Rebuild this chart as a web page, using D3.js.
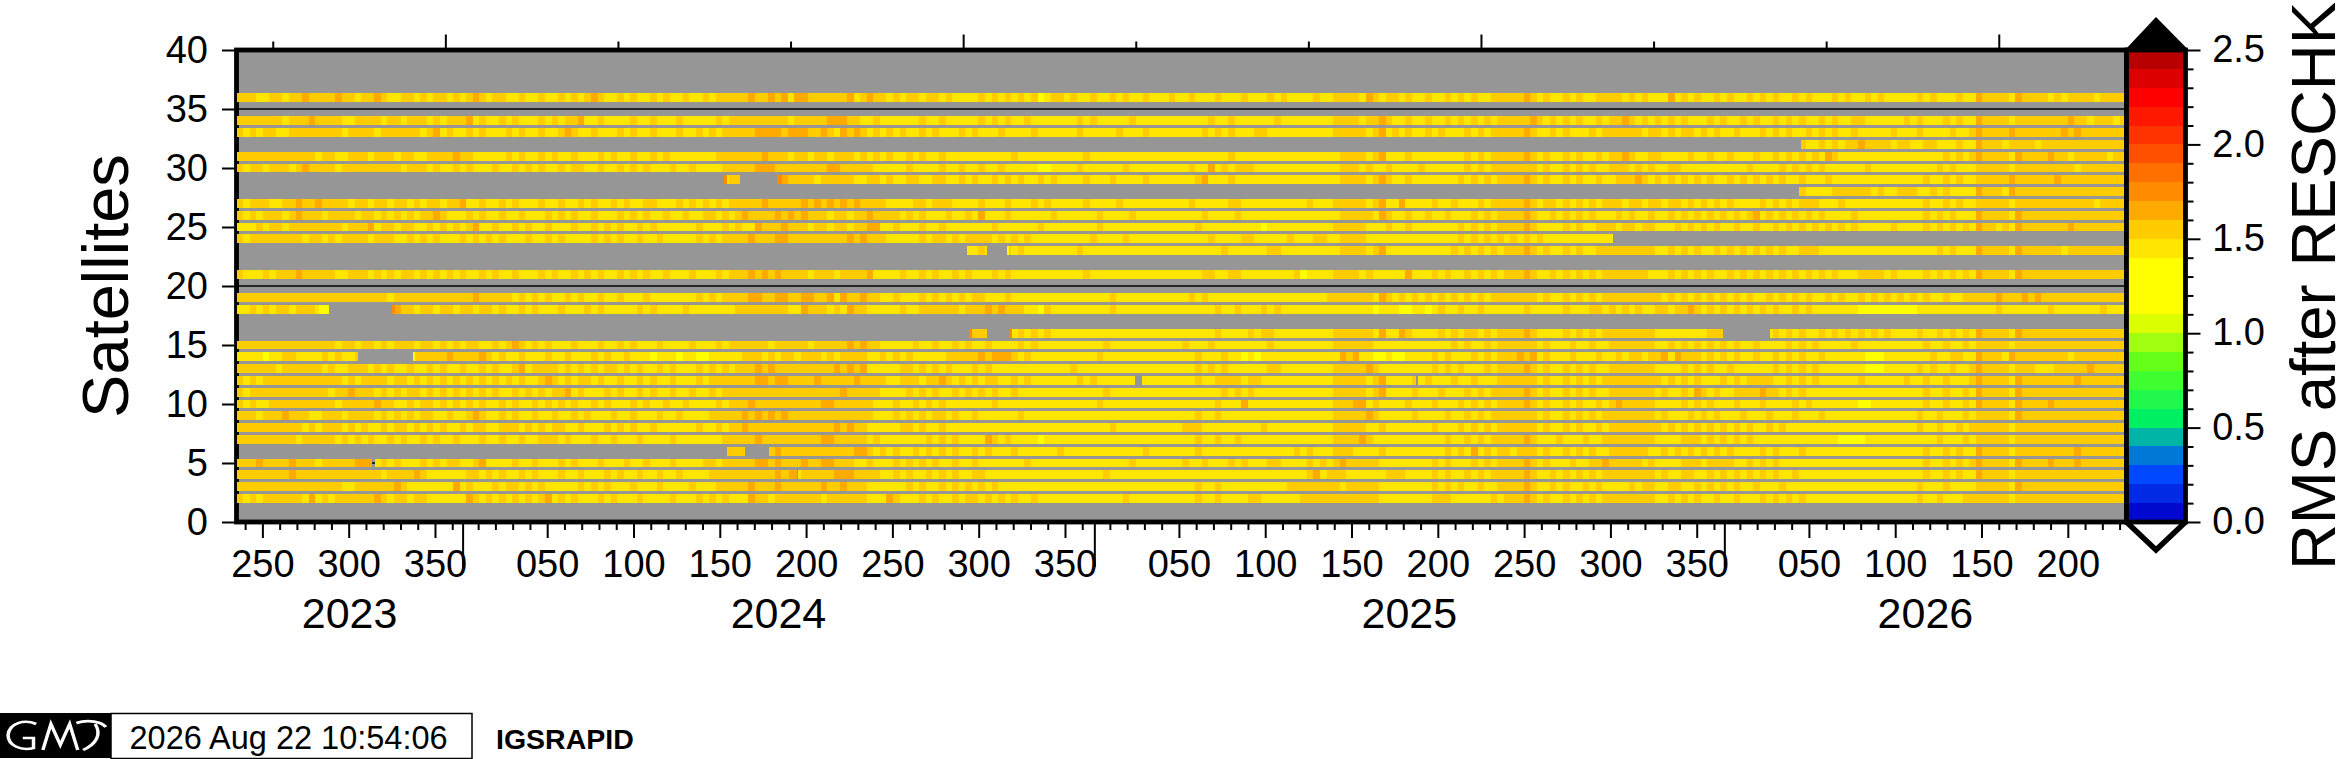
<!DOCTYPE html>
<html>
<head>
<meta charset="utf-8">
<script src="https://cdn.jsdelivr.net/npm/d3@7"></script>
<style>
  html, body { margin: 0; background: #fff; }
  svg { display: block; }
  text { font-family: "Liberation Sans", Arial, sans-serif; fill: #000; }
</style>
</head>
<body>
<svg id="chart" width="2337" height="759"></svg>
<script>
// colour table, bottom to top, one colour per 0.1 of RMS
var rmsColors = ["#0008d0","#002ae6","#0048ff","#0078d8","#00b4a8","#00f064","#20f84c","#40ff30","#66ff18","#a0ff10",
  "#dcff00","#ffff00","#ffff00","#ffff00","#ffe600","#ffcc00","#ffaa00","#ff8c00","#ff7000","#ff5000",
  "#ff3300","#ff1800","#ff0000","#dc0000","#b80000"];

var yTicks = [0,5,10,15,20,25,30,35,40];
var cbarTicks = [0,0.5,1,1.5,2,2.5];
var years = [2023,2024,2025,2026];
var mjdTicks = [60200,60300,60400,60500,60600,60700,60800,60900,61000,61100,61200,61300];

// the four stretches each row string is read over (days since 2023 day 235)
var stretchEdges = [0,273.8,547.8,821.8,1095];

// digit = RMS band, 4 -> 1.45 etc
var sats = [36,34,33,32,31,30,29,28,27,26,25,24,23,21,19,18,16,15,14,13,12,11,10,9,8,7,6,5,4,3,2];
var rmsRows = [
 ["555445545565555655455654455454554545654554454454454545654454544545445445","455555655656466555555645655454554554544445454545453455454454454544544454","454445444544454544445445555465455454454454545445555565454454544555545454","446454544545445454544545444545445454444454544454465555465555454555545555"],
 ["555555545556555544555545545554545556454454544454545564454444544544454444","454555555555455555666554454444445445444445454544544444445454444454444444","444454454444445444444445555455654454454454545454555556545454544545565454","545454445454454544545454454544554444445454445454465555455555555655455545"],
 ["545455445555555545555455555545645445454445454454456544544454544544454454","545555566665666556546565454545445454445454445444454444445444445444544444","444545454445544444444445555545645454454544454545555565445454445455555545","545455454544544454545445454544544444544454444544565555655555556565555555"],
 ["5","5","5","555555555555555555555554454545565555455445544454465554555545555555555555"],
 ["555555555555455445554555455445555655444445454454544544454544544545444444","455555556555455455455545454544545445444444444454444444444544444444444444","444444454444444444444444555545644454444444454545555565454454544545565445","544445445445444544545454546544444444444444445454565555465555655455555455"],
 ["545545554565555455555555545554544545444544545454454554454454545444544544","445555566655555555665555544444544445445445445444443344445444444544444444","454464545554444444444444555454454444544444454545555555454454545445554545","445544444444445444454545454444445444444444454544455555455555555545555555"],
 ["5","544555566666555545555544554544554455445454454545445454444544454444544444","445644454444444444444444555545654454444444545454555565454454544544555654","545454545445454545454454445444444444444445445454455555655555565555555555"],
 ["5","5","5","555555555555555555555554444555555454455544545444465554655555555555555555"],
 ["545554455655655554554554554545545564454454544454454454544545445544454545","454555556555556565656565555444455455544445444544454544444544445444444444","454444455444444444454445555545644644445445444545555565455454545455545545","545545454545444454545455544454444444444445445454455555455555555555545555"],
 ["545455545655545555455454545455654445454454454445454544544454545445445445","545456555565656555455455655554545444544546444544444454444445444454444444","444544445444444444444444555554654454454454445454555565445454545444545445","445454545454545645454545454444544444444445454544465555465555555555555555"],
 ["444545545555555545556455455445454545644544545445444544545454454544444454","445454465556555455455455664454445445444444454444445444444445444444444444","445444444444344444444445555544454454444444545454555565444454544555455455","444545454544544544545454545454544444544445454545465545465555555655555555"],
 ["545555555545545455554555445454544454545454445445454444545454454454444454","545555655566555555555656555444445455454555545454544444444454444544444444","444454444554444454445544555544444444444444545454545454544444444444444444","5"],
 ["5","555555555555555555555555555555555555445445454545444444445444444444444444","444444544444455444444444555545644444444445454545455565454454544555555555","445454544545454545454455544444444444444444454544465555465555554555555555"],
 ["544454555655555445554545455454545454454544544454544545454454545445444544","454555656565555455545555644445445454454544454544444444444544444444444444","444554455444444445344445555454444464445454454545455565445454545455555554","445454545445454545454545454544455554544445454545465555465555555555555555"],
 ["555555555555555555555554555555555555655555454545445454454454445444444454","545555665566556655646556554454445454545455444544444444444444454444444444","454544444444444444444455555554654545454545454545555555454454545455555555","545454545454545445454545445454454545454545445445555565556565555555555555"],
 ["445454554555435555555565655455455455455454454544454445454444454544445444","444455555555446555454655444445445555554555656555443544444444454444444444","444445445444545444444444444443444334434544544544444454444454445545454544","554556545454545454544545444444433333333344444444444454444444544444445444"],
 ["5","555555555555555555555555555555555555555555554545454544444444444444444444","444445444454554444444445555554644654444545455454555565444454545455555555","444444445555554554545454454545454545444454454545465555465555555555555555"],
 ["555555555555555455455454555455454545544545654545444544454454544454444544","454555555455555455555656554444454454454544544445454444444444544444444444","544454444444454444444445555554444444444445454454555555454445445445555555","445454545454544544445454544444544444444445445445455555455555555555555555"],
 ["444434455444454544545455456555556555565454454445445444545445444344434433","444445554545545554545555445454544444555556566654544444444445444444444444","445444544343444444444444656443343344445454445454555656454445444544545545","564655545454544544545454454444443334444444544554465554655555555455555555"],
 ["555555455555545445554545445445454454454544564555545454545545454454544454","545455565655555555565656444445545454544454544444444444454444444444444444","445454544444455444444445555565444444445454544454555565454454545445555555","444454545445444444545454544444443334444454544544565555455544455555655555"],
 ["545455555555555545455554554545454545454545454456545455454454454544544454","555555566566555565555565555445554556545454554454544444445454444444444444","445445555455444444444445555545644445454445445444555555454454545455555555","545454544454545555445454544444454444445445445444565555465555555565555555"],
 ["545555555555554556555454545545454545454544545454556454445454454544544544","545555555555555555556555554444545454454545454454444444444444544444444444","444444545454444444444445555545644445444544454545555565454454545445555555","454454654544555565545454444444444444444445445445465555465555555555555555"],
 ["545445555555555455555655445455454545454454544545454544545444545445445444","454555655555555556655555544454454545444444454444444444444445444444444444","444445444644444444444445556645444454445444545454555565454454544545655555","444454545444544454444545444444433444444445445445465555465555655555555555"],
 ["555455565554455545555454545455445445654454544544544545444544544454454444","555556565656555555555555544454545455454454444445444444444444444444444444","445445444444444444444445555565444445444454454545555555454454545455555555","454445454544454445444544454444444444444454454445455555465555555555555555"],
 ["555555555545455545454454554545454454554455545454554454445454544544444454","454556555555555555565655444445545445444444444444444444444444454444444444","555444444444544444444445555544544444445444545454555555454454544545555555","545454545454545445454444444444444444444454454454555555455555555555555555"],
 ["555555555455555454545445454454544544454454454455545444544544454444544444","445555565555555556655555454444444545454444654544443444444444444444444444","445445445444444444444445555654444444444454454545555565444544454455555555","444455545454545444444444444433334444444444454445455555455555555555555555"],
 ["5","555555565565555555555566545454454545454454544454444445444444444444544444","445444444444444445454445554444544444444454546454554555454454545445555554","454545454545444454544454444444444444444445445454465555455555555565555555"],
 ["555655556555455555664454544454545544564444544544454544454445445444544445","545555566565556556655544544454545454454454444444544444444444444454444444","544544454544455444454545655555444444445454445454555565454445445565555545","444455545555445454544444444444444444444445445454565555465555655565555555"],
 ["555555556555555555555545555654444445545454454544454454445454454454454444","555555555565545555566655554454544545454455444444444444444444544444444444","444444444444444444456455544444455544445454454545555565445454545455555555","454455445454545454544544444444444444444445445454465555455555555555555555"],
 ["555555555555555544555555654444444645444545545454444454545444544454444544","455555655565555556556555444444545445454545454444444444444444444444444444","445445444444444455555555455555444444445454544544555565445454454544445455","445544545454544544454444444444444444444454445444455555465555555555555555"],
 ["545455555546454555555654554554444446545454545456454544454544454444544454","545444655455555554555555444654445454454554545454454444444444444544444444","445445444455444444555555555555444444445554444445455565454454545455555555","445454544544544454545454444444444444444454454445555555455555555555555555"]
];

// [satellite, first day, last day] with no solution
var rowGaps = [
 [32,0,906.4],[28,0,905.3],[24,797.5,1095],
 [29,0,282.4],[29,291.7,313.3],
 [23,0,423.4],[23,434.8,446.6],
 [18,53.6,89.9],
 [16,0,424.6],[16,434.8,448.1],[16,861.3,888.5],
 [14,70.4,102.4],
 [12,520.6,524.6],[12,683.5,684.5],
 [6,0,284.2],[6,294.6,308.5],
 [5,78.5,80.4],[4,324.9,325.5]
];

// [satellite, first day, last day, rms] single blocks that stand out
var rowAccents = [
 [5,73.1,78.5,1.65],[18,47.8,53.6,1.35],[18,89.9,91.6,1.75],[14,102.4,103.4,1.35],
 [29,282.4,284,1.75],[29,313.3,316,1.75],[6,294,294.6,1.55],[4,320.3,324.9,1.65],
 [16,424.6,426,1.75],[16,448.1,449.5,1.75],[23,446.6,447.6,1.35]
];

var margin = { left: 236.5, right: 2126.5, top: 50, bottom: 522 };
var svg = d3.select("#chart");

var x = d3.scaleUtc()
  .domain([new Date(Date.UTC(2023,7,23)), new Date(Date.UTC(2026,7,22))])
  .range([margin.left, margin.right]);
var y = d3.scaleLinear().domain([0,40]).range([margin.bottom, margin.top]);
var cbar = d3.scaleLinear().domain([0,2.5]).range([margin.bottom, margin.top]);
var color = d3.scaleQuantize().domain([0,2.5]).range(rmsColors);

function dayDate (d) { return new Date(Date.UTC(2023,7,23) + d*864e5); }
function yearDay (yr, n) { return new Date(Date.UTC(yr,0,n)); }
function mjdDate (m) { return new Date(Date.UTC(1858,10,17) + m*864e5); }

// plot background and grid, the rows are painted over them
svg.append("rect")
  .attr("x", margin.left).attr("y", margin.top)
  .attr("width", margin.right-margin.left).attr("height", margin.bottom-margin.top)
  .attr("fill", "#969696");

svg.selectAll("line.grid")
  .data(yTicks.slice(1,-1))
  .enter().append("line")
    .attr("class", "grid")
    .attr("x1", margin.left).attr("x2", margin.right)
    .attr("y1", y).attr("y2", y)
    .attr("stroke", "#000").attr("stroke-width", 1.5);

var frame = svg.append("rect")
  .attr("x", margin.left).attr("y", margin.top)
  .attr("width", margin.right-margin.left).attr("height", margin.bottom-margin.top)
  .attr("fill", "none").attr("stroke", "#000").attr("stroke-width", 4.8);

// one rect per reading, cut where the satellite has a gap
function cutByGaps (sat, d0, d1) {
  var spans = [[d0,d1]];
  rowGaps.filter(function (g) { return g[0] === sat; }).forEach(function (g) {
    var next = [];
    spans.forEach(function (s) {
      if (g[2] <= s[0] || g[1] >= s[1]) { next.push(s); return; }
      if (g[1] > s[0]) next.push([s[0], g[1]]);
      if (g[2] < s[1]) next.push([g[2], s[1]]);
    });
    spans = next;
  });
  return spans;
}

var cells = [];
sats.forEach(function (sat, r) {
  rmsRows[r].forEach(function (chars, k) {
    var step = (stretchEdges[k+1]-stretchEdges[k])/chars.length;
    chars.split("").forEach(function (c, i) {
      var d0 = stretchEdges[k]+i*step;
      cutByGaps(sat, d0, d0+step).forEach(function (s) {
        cells.push({ sat: sat, d0: s[0], d1: s[1], v: 1+(+c)/10+0.05 });
      });
    });
  });
});
rowAccents.forEach(function (a) {
  cells.push({ sat: a[0], d0: a[1], d1: a[2], v: a[3] });
});

svg.append("clipPath").attr("id", "plot-clip")
  .append("rect").attr("x", 236).attr("y", 50).attr("width", 1888).attr("height", 472);

var rowHeight = y(0)-y(0.76);
svg.append("g").attr("clip-path", "url(#plot-clip)")
  .selectAll("rect")
  .data(cells)
  .enter().append("rect")
    .attr("x", function (d) { return x(dayDate(d.d0)); })
    .attr("width", function (d) { return x(dayDate(d.d1))-x(dayDate(d.d0)); })
    .attr("y", function (d) { return y(d.sat)-rowHeight/2; })
    .attr("height", rowHeight)
    .attr("fill", function (d) { return color(d.v); })
    .attr("shape-rendering", "crispEdges");

function tidy (g, size) {
  g.select(".domain").remove();
  g.selectAll(".tick line").attr("stroke", "#000").attr("stroke-width", 2);
  g.selectAll("text").attr("fill", "#000").style("font-size", size+"px")
    .style("font-family", '"Liberation Sans", Arial, sans-serif');
}

// left axis
svg.append("g").attr("transform", "translate("+(margin.left-2)+",0)")
  .call(d3.axisLeft(y).tickValues(yTicks).tickSize(12.5).tickPadding(14))
  .call(tidy, 38);

// bottom axis: ticks every 10 days, labels every 50, counted from each new year
var minorDays = [], labelDays = [];
years.forEach(function (yr) {
  for (var n = 10; n <= 360; n += 10) {
    var dt = yearDay(yr, n);
    if (dt < x.domain()[0] || dt > x.domain()[1]) continue;
    if (n % 50) minorDays.push(dt); else labelDays.push(dt);
  }
});
var yearStarts = years.slice(1).map(function (yr) { return yearDay(yr, 1); });

svg.append("g").attr("transform", "translate(0,"+margin.bottom+")")
  .call(d3.axisBottom(x).tickValues(minorDays).tickSize(8).tickFormat(""))
  .call(tidy, 38);
svg.append("g").attr("transform", "translate(0,"+margin.bottom+")")
  .call(d3.axisBottom(x).tickValues(labelDays).tickSize(16).tickPadding(12)
    .tickFormat(function (d) { return d3.utcFormat("%j")(d); }))
  .call(tidy, 38);
svg.append("g").attr("transform", "translate(0,"+margin.bottom+")")
  .call(d3.axisBottom(x).tickValues(yearStarts).tickSize(45).tickFormat(""))
  .call(tidy, 38);

// year names in the middle of their stretch of axis
svg.selectAll("text.year")
  .data(years)
  .enter().append("text")
    .attr("class", "year")
    .attr("x", function (yr) {
      var a = d3.max([yearDay(yr,1), x.domain()[0]]);
      var b = d3.min([yearDay(yr+1,1), x.domain()[1]]);
      return (x(a)+x(b))/2;
    })
    .attr("y", 628)
    .attr("text-anchor", "middle")
    .style("font-size", "43px")
    .text(function (yr) { return yr; });

// top axis, MJD ticks without labels
svg.append("g").attr("transform", "translate(0,"+(margin.top-2)+")")
  .call(d3.axisTop(x).tickValues(mjdTicks.filter(function (m) { return m % 300; }).map(mjdDate)).tickSize(6.5).tickFormat(""))
  .call(tidy, 38);
svg.append("g").attr("transform", "translate(0,"+(margin.top-2)+")")
  .call(d3.axisTop(x).tickValues(mjdTicks.filter(function (m) { return !(m % 300); }).map(mjdDate)).tickSize(13.5).tickFormat(""))
  .call(tidy, 38);

// colour bar
var cbarLeft = 2126.5, cbarRight = 2185.5;
svg.selectAll("rect.band")
  .data(rmsColors)
  .enter().append("rect")
    .attr("class", "band")
    .attr("x", cbarLeft).attr("width", cbarRight-cbarLeft)
    .attr("y", function (d, i) { return cbar((i+1)/10); })
    .attr("height", cbar(0)-cbar(0.1))
    .attr("fill", function (d) { return d; })
    .attr("shape-rendering", "crispEdges");

var mid = (cbarLeft+cbarRight)/2;
svg.append("path")
  .attr("d", d3.line()([[cbarLeft-1.5,50],[mid,17],[cbarRight+3,50]])+"Z")
  .attr("fill", "#000");
svg.append("path")
  .attr("d", d3.line()([[cbarLeft,522],[mid,550],[cbarRight,522]]))
  .attr("fill", "#fff").attr("stroke", "#000").attr("stroke-width", 5.5);
svg.append("rect")
  .attr("x", cbarLeft).attr("y", 50)
  .attr("width", cbarRight-cbarLeft).attr("height", 472)
  .attr("fill", "none").attr("stroke", "#000").attr("stroke-width", 4.8);

svg.append("g").attr("transform", "translate("+(cbarRight+2)+",0)")
  .call(d3.axisRight(cbar).tickValues(d3.range(0,25).map(function (i) { return i/10; }).filter(function (v) { return Math.round(v*10)%5; })).tickSize(6).tickFormat(""))
  .call(tidy, 38);
svg.append("g").attr("transform", "translate("+(cbarRight+2)+",0)")
  .call(d3.axisRight(cbar).tickValues(cbarTicks).tickSize(13).tickPadding(0).tickFormat(""))
  .call(tidy, 38);
svg.selectAll("text.cbar")
  .data(cbarTicks)
  .enter().append("text")
    .attr("class", "cbar")
    .attr("x", 2265).attr("y", cbar).attr("dy", ".32em")
    .attr("text-anchor", "end")
    .style("font-size", "38px")
    .text(d3.format(".1f"));

// axis titles
svg.append("text")
  .attr("transform", "translate(128,286) rotate(-90)")
  .attr("text-anchor", "middle")
  .style("font-size", "65px")
  .text("Satellites");
svg.append("text")
  .attr("transform", "translate(2335,286) rotate(-90)")
  .attr("text-anchor", "middle")
  .style("font-size", "63.5px")
  .text("RMS after RESCHK");

// time stamp at the foot
svg.append("rect").attr("x", 0).attr("y", 713).attr("width", 111).attr("height", 45).attr("fill", "#000");
svg.append("rect").attr("x", 111).attr("y", 713.5).attr("width", 361).attr("height", 45)
  .attr("fill", "#fff").attr("stroke", "#000").attr("stroke-width", 1.5);
svg.append("path")
  .attr("transform", "scale(1.34,1)")
  .attr("d", "M27 724C18 719 7 723 6 735C6 746 16 751 25 748L25 738L17 738M32 750L38 724L45 745L52 724L58 750M57 723C66 719 76 722 79 727M71 724C76 734 72 744 62 750")
  .attr("fill", "none").attr("stroke", "#fff").attr("stroke-width", 2.6);
svg.append("text")
  .attr("x", 129.5).attr("y", 748.5)
  .style("font-size", "32.5px")
  .text("2026 Aug 22 10:54:06");
svg.append("text")
  .attr("x", 496).attr("y", 749)
  .style("font-size", "28.5px").style("font-weight", "bold")
  .text("IGSRAPID");
</script>
</body>
</html>
